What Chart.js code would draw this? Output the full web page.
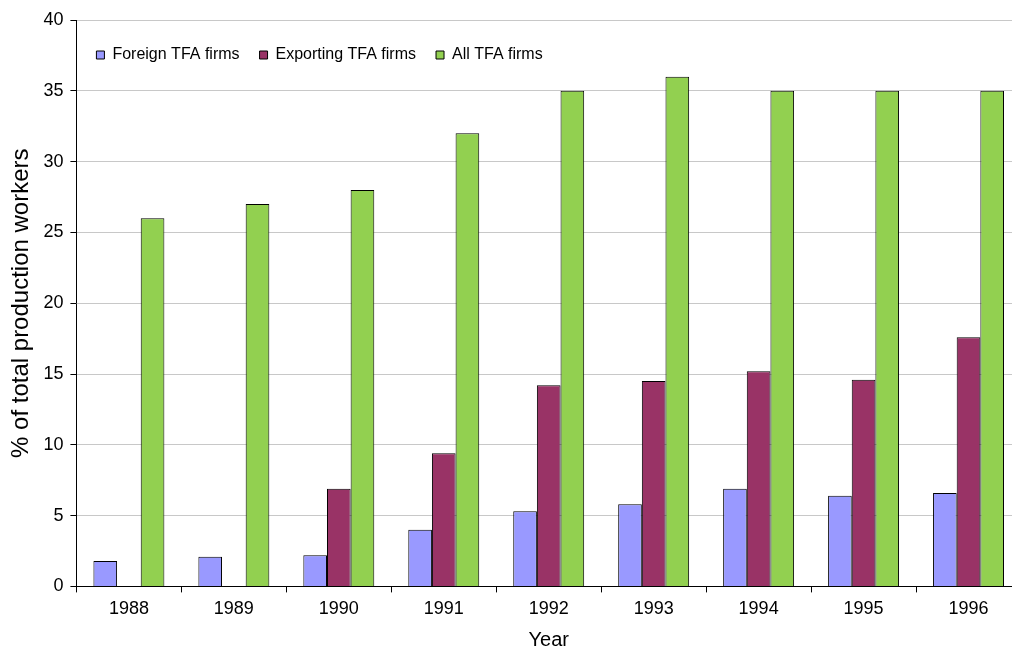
<!DOCTYPE html>
<html>
<head>
<meta charset="utf-8">
<script src="https://cdn.jsdelivr.net/npm/chart.js@4/dist/chart.umd.min.js"></script>
<style>
  html, body { margin: 0; padding: 0; background: #fff; overflow: hidden; }
  canvas { display: block; }
</style>
</head>
<body>
<canvas id="tfa-chart" width="1021" height="650"></canvas>
<script>
const years = ['1988', '1989', '1990', '1991', '1992', '1993', '1994', '1995', '1996'];
const foreignTfa = [1.8, 2.1, 2.2, 4.0, 5.3, 5.8, 6.9, 6.4, 6.6];
const exportingTfa = [null, null, 6.9, 9.4, 14.2, 14.5, 15.2, 14.6, 17.6];
const allTfa = [26, 27, 28, 32, 35, 36, 35, 35, 35];

// leyenda en una fila, dentro del area del grafico
const leyendaDentro = {
    id: 'leyendaDentro',
    beforeLayout(chart) {
        if (chart.legend) chart.legend.isHorizontal = () => true;
    },
    afterLayout(chart) {
        const l = chart.legend;
        const a = chart.chartArea;
        if (!l) return;
        l.left = a.left;
        l.right = a.right;
        l.top = a.top;
        l.bottom = a.top + l.height;
    }
};

document.addEventListener('DOMContentLoaded', function() {
    dibujarGrafico();
});

function dibujarGrafico() {
    Chart.defaults.font.family = "'Liberation Sans', Arial, sans-serif";
    Chart.defaults.color = '#000';

    const ctx = document.getElementById('tfa-chart').getContext('2d');
    new Chart(ctx, {
        type: 'bar',
        data: {
            labels: years,
            datasets: [
                { label: 'Foreign TFA firms', data: foreignTfa, backgroundColor: '#9999FF' },
                { label: 'Exporting TFA firms', data: exportingTfa, backgroundColor: '#993366' },
                { label: 'All TFA firms', data: allTfa, backgroundColor: '#92D050' }
            ]
        },
        plugins: [leyendaDentro],
        options: {
            responsive: false,
            animation: false,
            layout: { padding: { left: 8, top: 20, right: 0, bottom: 0 } },
            datasets: {
                bar: {
                    borderColor: '#000',
                    borderWidth: 1,
                    categoryPercentage: 0.676,
                    barPercentage: 1.0
                }
            },
            plugins: {
                legend: {
                    position: 'chartArea',
                    align: 'start',
                    title: { display: true, text: '', font: { size: 5, lineHeight: 1 }, padding: 1 },
                    labels: {
                        boxWidth: 8,
                        boxHeight: 8,
                        padding: 20,
                        font: { size: 16 }
                    }
                },
                tooltip: { enabled: false }
            },
            scales: {
                x: {
                    grid: {
                        drawOnChartArea: false,
                        tickColor: '#000',
                        tickLength: 6,
                        offset: true
                    },
                    border: { color: '#000', width: 1 },
                    ticks: { font: { size: 18 }, padding: 6 },
                    title: {
                        display: true,
                        text: 'Year',
                        font: { size: 20, lineHeight: 1 },
                        padding: { top: 4, bottom: 0 }
                    }
                },
                y: {
                    min: 0,
                    max: 40,
                    ticks: { stepSize: 5, font: { size: 18 }, padding: 7 },
                    grid: {
                        color: '#c8c8c8',
                        tickColor: '#000',
                        tickLength: 6
                    },
                    border: { color: '#000', width: 1 },
                    title: {
                        display: true,
                        text: '% of total production workers',
                        font: { size: 24, lineHeight: 1.1 },
                        padding: { top: 0, bottom: 2 }
                    }
                }
            }
        }
    });
}
</script>
</body>
</html>
